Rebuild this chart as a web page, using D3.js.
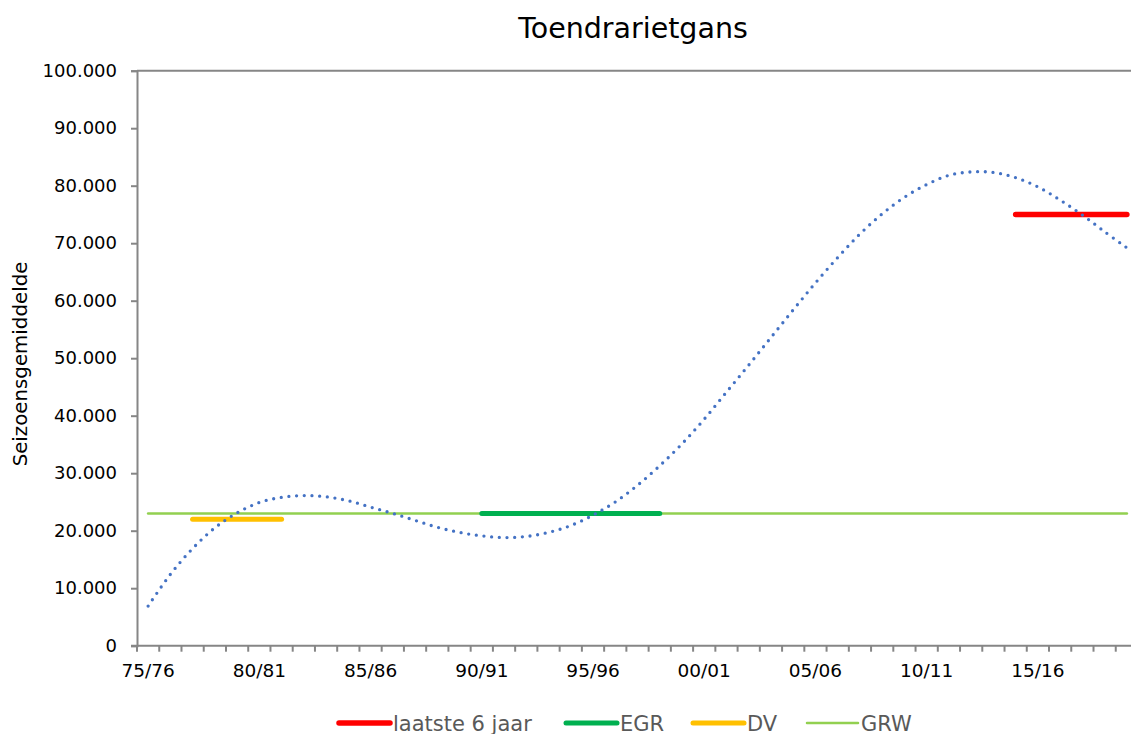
<!DOCTYPE html>
<html lang="nl">
  <head>
    <meta charset="UTF-8" />
    <script src="https://cdn.jsdelivr.net/npm/d3@7"></script>
    <style>
      * {
        margin: 0;
        padding: 0;
      }
      body {
        background: #fff;
      }
      #chart {
        width: 1131px;
        height: 734px;
        overflow: hidden;
      }
      text {
        font-family: 'DejaVu Sans', sans-serif;
      }
    </style>
    <title>Toendrarietgans</title>
  </head>
  <body>
    <div id="chart"></div>
    <script>
      // seasons on the x axis
      const seasons = [
        '75/76', '76/77', '77/78', '78/79', '79/80', '80/81', '81/82', '82/83', '83/84',
        '84/85', '85/86', '86/87', '87/88', '88/89', '89/90', '90/91', '91/92', '92/93',
        '93/94', '94/95', '95/96', '96/97', '97/98', '98/99', '99/00', '00/01', '01/02',
        '02/03', '03/04', '04/05', '05/06', '06/07', '07/08', '08/09', '09/10', '10/11',
        '11/12', '12/13', '13/14', '14/15', '15/16', '16/17', '17/18', '18/19', '19/20',
      ];
      const labelSeasons = ['75/76', '80/81', '85/86', '90/91', '95/96', '00/01', '05/06', '10/11', '15/16'];

      // trend line (seizoensgemiddelde)
      const trend = [
        6900, 12400, 16900, 20500, 23100, 24900, 25800, 26100, 25900,
        25200, 24100, 23000, 21800, 20600, 19700, 19100, 18800, 19000,
        19700, 20900, 22700, 25000, 27900, 31300, 35100, 39400, 44100,
        48800, 53600, 58400, 63100, 67500, 71600, 75100, 78000, 80200,
        81800, 82400, 82300, 81400, 79800, 77500, 74900, 72000, 69200,
      ];

      // reference levels
      const refNames = ['laatste 6 jaar', 'EGR', 'DV', 'GRW'];
      const refValues = [75000, 23000, 22000, 23000];
      const refFrom = ['14/15', '90/91', '77/78', '75/76'];
      const refTo = ['19/20', '98/99', '81/82', '19/20'];
      const refColors = ['#ff0000', '#00b050', '#ffc000', '#92d050'];

      const yTicks = [0, 10000, 20000, 30000, 40000, 50000, 60000, 70000, 80000, 90000, 100000];

      const width = 1131;
      const height = 734;
      const plotLeft = 137;
      const plotRight = 1138;
      const plotTop = 70.7;
      const plotBottom = 645.7;
      const axisColor = '#868686';

      const nl = d3.formatLocale({ decimal: ',', thousands: '.', grouping: [3], currency: ['€', ''] });
      const fmt = nl.format(',');

      const svg = d3
        .select('#chart')
        .append('svg')
        .attr('width', width)
        .attr('height', height);

      const x = d3.scaleBand().domain(seasons).range([plotLeft, plotRight]);
      const cx = (s) => x(s) + x.bandwidth() / 2;
      const y = d3.scaleLinear().domain([0, 100000]).range([plotBottom, plotTop]);

      // title
      svg
        .append('text')
        .text('Toendrarietgans')
        .attr('x', 633)
        .attr('y', 38)
        .attr('text-anchor', 'middle')
        .attr('font-size', 28.5)
        .attr('fill', '#000');

      // y axis title
      svg
        .append('text')
        .text('Seizoensgemiddelde')
        .attr('transform', 'translate(27,364) rotate(-90)')
        .attr('text-anchor', 'middle')
        .attr('font-size', 19.8)
        .attr('fill', '#000');

      // plot border top
      svg
        .append('line')
        .attr('x1', plotLeft)
        .attr('x2', plotRight)
        .attr('y1', plotTop)
        .attr('y2', plotTop)
        .attr('stroke', axisColor)
        .attr('stroke-width', 2);

      // y axis
      const yAxis = d3.axisLeft(y).tickValues(yTicks).tickFormat(fmt).tickSize(6).tickPadding(14);
      const yg = svg.append('g').attr('transform', `translate(${plotLeft},0)`).call(yAxis);
      yg.select('.domain').attr('stroke', axisColor).attr('stroke-width', 2);
      yg.selectAll('.tick line').attr('stroke', axisColor).attr('stroke-width', 2);
      yg.selectAll('.tick text')
        .attr('font-family', "'DejaVu Sans', sans-serif")
        .attr('font-size', 18)
        .attr('fill', '#000');

      // x axis: labels every 5 seasons, ticks between categories
      const xAxis = d3.axisBottom(x).tickValues(labelSeasons).tickSize(0).tickPadding(18);
      const xg = svg.append('g').attr('transform', `translate(0,${plotBottom})`).call(xAxis);
      xg.select('.domain').remove();
      xg.selectAll('.tick text')
        .attr('font-family', "'DejaVu Sans', sans-serif")
        .attr('font-size', 18.5)
        .attr('fill', '#000');

      const bounds = seasons.map((s) => x(s)).concat([x(seasons[seasons.length - 1]) + x.bandwidth()]);
      svg
        .append('g')
        .selectAll('line')
        .data(bounds)
        .join('line')
        .attr('x1', (d) => d)
        .attr('x2', (d) => d)
        .attr('y1', plotBottom)
        .attr('y2', plotBottom + 6)
        .attr('stroke', axisColor)
        .attr('stroke-width', 2);
      svg
        .append('line')
        .attr('x1', plotLeft - 6)
        .attr('x2', plotRight)
        .attr('y1', plotBottom)
        .attr('y2', plotBottom)
        .attr('stroke', axisColor)
        .attr('stroke-width', 2);

      // reference lines (GRW first so others sit on top)
      const refWidths = [5.5, 5, 5, 2.5];
      const refs = refNames.map((name, i) => ({
        name,
        value: refValues[i],
        from: refFrom[i],
        to: refTo[i],
        color: refColors[i],
        w: refWidths[i],
      }));
      const drawOrder = [3, 2, 1, 0];
      svg
        .append('g')
        .selectAll('line')
        .data(drawOrder.map((i) => refs[i]))
        .join('line')
        .attr('x1', (d) => cx(d.from))
        .attr('x2', (d) => cx(d.to))
        .attr('y1', (d) => y(d.value))
        .attr('y2', (d) => y(d.value))
        .attr('stroke', (d) => d.color)
        .attr('stroke-width', (d) => d.w)
        .attr('stroke-linecap', 'round');

      // dotted trend line
      const line = d3
        .line()
        .x((d, i) => cx(seasons[i]))
        .y((d) => y(d))
        .curve(d3.curveCatmullRom);
      svg
        .append('path')
        .datum(trend)
        .attr('d', line)
        .attr('fill', 'none')
        .attr('stroke', '#4472c4')
        .attr('stroke-width', 3.3)
        .attr('stroke-linecap', 'round')
        .attr('stroke-dasharray', '0 7.7');

      // legend, line starts taken from the original layout
      const legendX = [337, 564, 691, 805];
      const ly = 723;
      const legend = svg.append('g');
      refs.forEach((r, i) => {
        const lx = legendX[i];
        legend
          .append('line')
          .attr('x1', lx + 2)
          .attr('x2', lx + 53)
          .attr('y1', ly)
          .attr('y2', ly)
          .attr('stroke', r.color)
          .attr('stroke-width', r.w)
          .attr('stroke-linecap', 'round');
        legend
          .append('text')
          .text(r.name)
          .attr('x', lx + 56)
          .attr('y', ly + 7.5)
          .attr('font-size', 21)
          .attr('fill', '#595959');
      });
    </script>
  </body>
</html>
